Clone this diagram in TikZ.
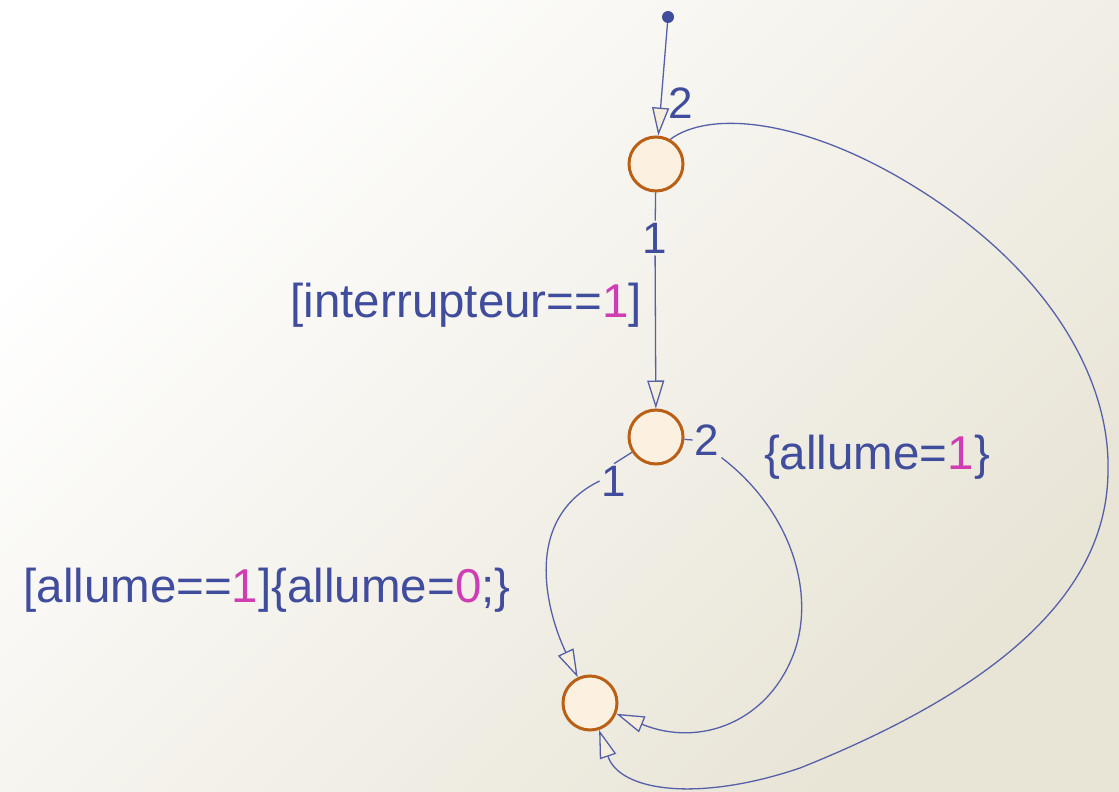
\documentclass[tikz,border=0pt]{standalone}
\usepackage{fontspec}
\setmainfont{Liberation Sans}
\usetikzlibrary{arrows.meta}
\definecolor{txtblue}{HTML}{404C9C}
\definecolor{lineblue}{HTML}{5560A8}
\definecolor{mag}{HTML}{D03CB4}
\definecolor{junc}{HTML}{BA6016}
\definecolor{juncfill}{HTML}{FCF1E0}
\definecolor{arrfill}{HTML}{F6EEDD}
\definecolor{bgA}{HTML}{FFFFFF}
\definecolor{bgB}{HTML}{E8E4D6}
\tikzset{
  junction/.style={circle,draw=junc,fill=juncfill,line width=3pt,minimum size=54pt,inner sep=0pt},
  lbl/.style={text=txtblue,font=\fontsize{47.5}{52}\selectfont,inner sep=2pt},
  num/.style={text=txtblue,font=\fontsize{44}{48}\selectfont,inner sep=2pt},
  trans/.style={draw=lineblue,line width=1.3pt},
  arr/.style={-{Triangle[length=28pt,width=17pt,fill=arrfill]}},
}
\begin{document}
\begin{tikzpicture}[x=1pt,y=-1pt]
\useasboundingbox (0,0) rectangle (1119,792);
\shade[top color=bgA,bottom color=bgB,shading angle=45] (0,0) rectangle (1119,792);
% junctions
\node[junction] (J1) at (656,164) {};
\node[junction] (J2) at (656,437) {};
\node[junction] (J3) at (590,703) {};
\node[circle,fill=txtblue,minimum size=12pt,inner sep=0pt] (D) at (668,17) {};
% labels
\node[num] (t2) at (681,103) {2};
\node[num] (v1) at (655,238) {1};
\node[num] (r2) at (707,440) {2};
\node[num] (l1) at (614,481) {1};
\node[lbl,anchor=east] (g1) at (644,305) {[interrupteur==\textcolor{mag}{1}]};
\node[lbl] (a1) at (877,457) {\{allume=\textcolor{mag}{1}\}};
\node[lbl] (a2) at (267,590) {[allume==\textcolor{mag}{1}]\{allume=\textcolor{mag}{0};\}};
% default transition
\draw[trans,arr] (D) -- (J1);
% vertical transition
\draw[trans] (J1) -- (v1);
\draw[trans,arr] (v1) -- (J2);
% big loop
\draw[trans,arr] (J1.60) .. controls (710,110) and (800,120) .. (900,178)
  .. controls (1050,265) and (1110,380) .. (1108,470)
  .. controls (1108,580) and (1020,680) .. (800,768)
  .. controls (700,802) and (620,792) .. (J3);
% right loop
\draw[trans] (J2) -- (r2.west);
\draw[trans,arr] (r2.south east) .. controls (790,510) and (815,590) .. (795,650)
  .. controls (770,722) and (700,748) .. (J3);
% left loop
\draw[trans] (J2) -- (l1.north);
\draw[trans,arr] (l1.west) .. controls (520,520) and (548,615) .. (J3);
\end{tikzpicture}
\end{document}
